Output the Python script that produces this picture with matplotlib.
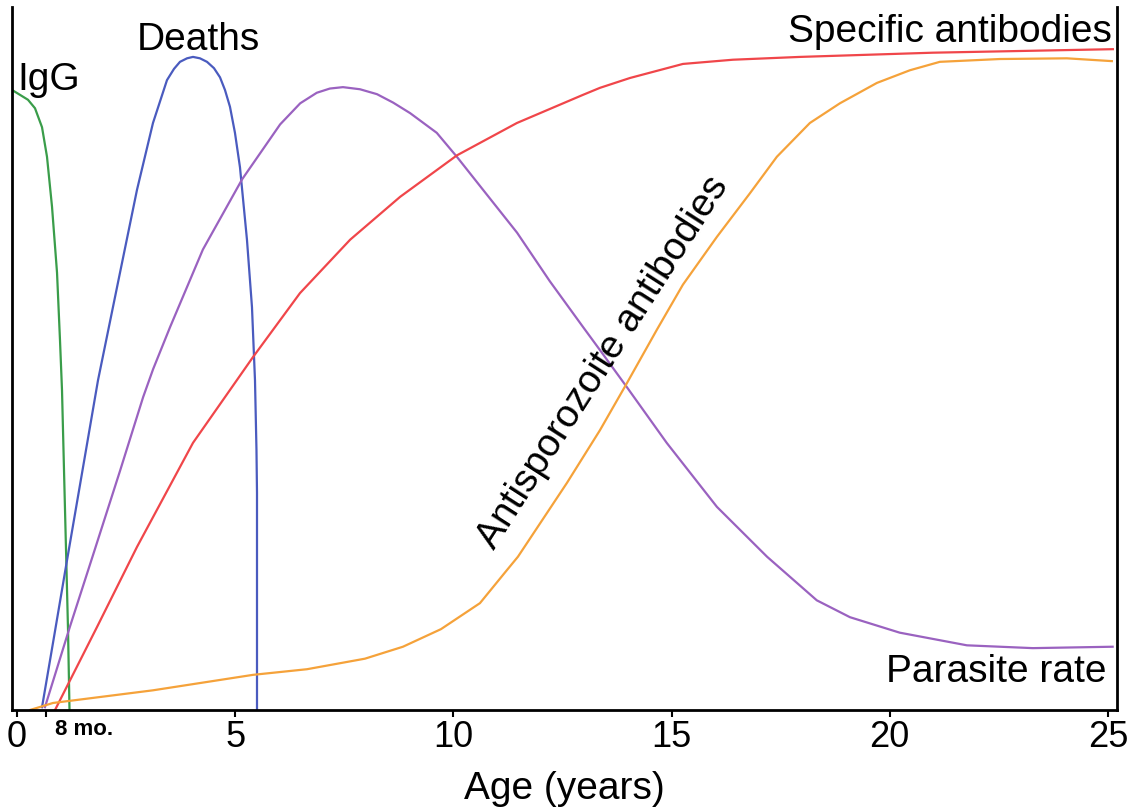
import matplotlib
matplotlib.use("Agg")
import matplotlib.pyplot as plt

plt.rcParams["font.family"] = ["Liberation Sans", "DejaVu Sans"]

# Curvas (idade em anos, nível relativo 0-100)
igg_x = [-0.115, 0.069, 0.252, 0.412, 0.573, 0.687, 0.802, 0.917, 0.985, 1.031, 1.077,
         1.123, 1.169, 1.203]
igg_y = [88.2, 87.5, 86.8, 85.6, 82.9, 78.7, 71.6, 62.2, 52.6, 45.5, 34.1,
         22.8, 11.4, 0.0]

mortes_x = [0.573, 0.859, 1.146, 1.501, 1.856, 2.360, 2.750, 3.116, 3.437, 3.598, 3.735,
            3.896, 4.033, 4.193, 4.354, 4.514, 4.652, 4.766, 4.881, 4.995, 5.110, 5.270,
            5.385, 5.454, 5.488, 5.500, 5.500]
mortes_y = [0.4, 10.8, 21.3, 34.1, 46.9, 62.2, 74.0, 83.5, 89.6, 91.2, 92.2,
            92.7, 92.9, 92.7, 92.2, 91.3, 90.0, 88.2, 85.8, 82.1, 77.2, 66.9,
            57.3, 46.9, 37.0, 30.9, 0.0]

parasitas_x = [0.64, 1.21, 1.74, 2.36, 2.89, 3.12, 3.51, 4.26, 5.16, 6.03, 6.49, 6.87,
               7.17, 7.47, 7.86, 8.25, 8.62, 9.01, 9.62, 10.08, 10.68, 11.46, 12.21,
               12.97, 13.36, 13.98, 14.89, 16.04, 17.19, 18.33, 19.09, 20.23, 21.77,
               23.28, 25.11]
parasitas_y = [0.4, 11.8, 22.0, 34.0, 44.5, 48.5, 54.5, 65.5, 75.5, 83.3, 86.3, 87.8,
               88.4, 88.6, 88.3, 87.6, 86.4, 84.9, 82.1, 78.7, 74.0, 67.9, 61.0,
               54.5, 51.2, 45.9, 38.0, 28.9, 21.8, 15.6, 13.2, 11.0, 9.2,
               8.8, 9.0]

especificos_x = [0.871, 1.833, 2.750, 4.033, 5.408, 6.485, 7.635, 8.781, 10.083, 11.457,
                 12.970, 13.360, 14.047, 15.261, 16.407, 17.942, 20.990, 25.115]
especificos_y = [0.0, 11.8, 23.2, 38.0, 50.2, 59.3, 66.9, 73.0, 78.9, 83.5,
                 87.5, 88.5, 89.9, 91.9, 92.5, 92.9, 93.5, 94.0]

antispz_x = [0.298, 0.825, 3.116, 5.408, 6.645, 7.974, 8.845, 9.716, 10.610, 11.228,
             11.480, 12.603, 13.360, 13.978, 14.665, 15.261, 16.040, 16.797, 17.415,
             18.171, 18.859, 19.707, 20.463, 21.150, 22.525, 24.060, 25.092]
antispz_y = [0.0, 1.0, 2.8, 5.0, 5.8, 7.3, 9.0, 11.5, 15.2, 19.9,
             21.8, 32.3, 39.8, 46.5, 54.1, 60.5, 67.3, 73.5, 78.7,
             83.5, 86.3, 89.2, 91.0, 92.2, 92.6, 92.7, 92.3]

ticks_x = [0, 8 / 12, 5, 10, 15, 20, 25]
rotulos_x = ["0", "", "5", "10", "15", "20", "25"]

fig = plt.figure(figsize=(11.34, 8.10), dpi=100)
ax = fig.add_axes([0.01058, 0.12346, 0.97443, 0.86790])

lw = 1.6
ax.plot(igg_x, igg_y, color="#3a9d4a", linewidth=lw)
ax.plot(mortes_x, mortes_y, color="#4a5bbf", linewidth=lw)
ax.plot(parasitas_x, parasitas_y, color="#9a62c0", linewidth=lw)
ax.plot(especificos_x, especificos_y, color="#f0464a", linewidth=lw)
ax.plot(antispz_x, antispz_y, color="#f5a23a", linewidth=lw)

ax.set_xlim(-0.115, 25.21)
ax.set_ylim(0, 100)

ax.spines["top"].set_visible(False)
for lado in ("left", "right", "bottom"):
    ax.spines[lado].set_linewidth(2)
    ax.spines[lado].set_color("black")

ax.set_yticks([])
ax.set_xticks(ticks_x)
ax.set_xticklabels(rotulos_x, fontsize=26)
ax.tick_params(axis="x", length=5, width=1.5, pad=2)
ax.set_xlabel("Age (years)", fontsize=28, labelpad=12)

ax.text(0.87, -0.013, "8 mo.", transform=ax.get_xaxis_transform(),
        fontsize=16, fontweight="bold", ha="left", va="top")

tam = 28
ax.text(0.0, 88.2, "IgG", fontsize=tam, ha="left", va="baseline")
ax.text(2.75, 93.9, "Deaths", fontsize=tam, ha="left", va="baseline")
ax.text(25.09, 95.0, "Specific antibodies", fontsize=tam, ha="right", va="baseline")
ax.text(24.98, 4.0, "Parasite rate", fontsize=tam, ha="right", va="baseline")
ax.text(13.43, 49.5, "Antisporozoite antibodies", fontsize=tam, ha="center", va="center",
        rotation=57.3, rotation_mode="anchor")

fig.savefig("out.png", dpi=100)
